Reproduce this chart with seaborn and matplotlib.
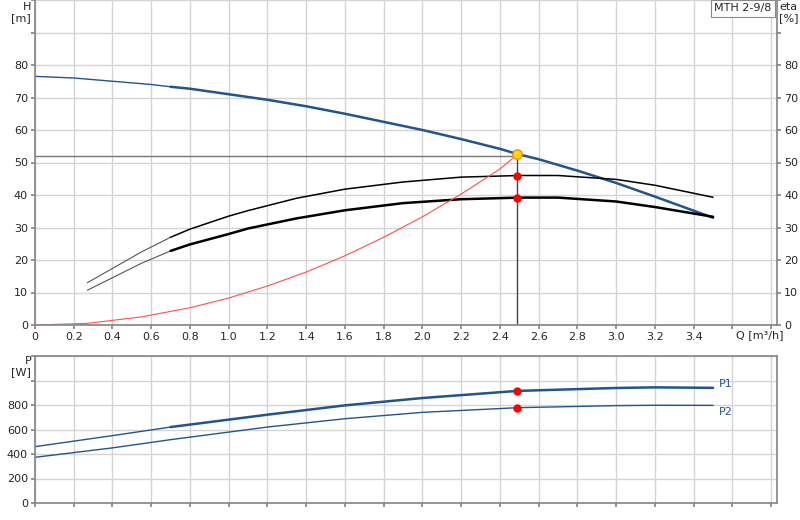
import matplotlib
matplotlib.use("Agg")
import matplotlib.pyplot as plt
import seaborn as sns
import numpy as np

sns.set_theme(style="white")
plt.rcParams['font.family'] = ['DejaVu Sans']

q_h = [0, 0.2, 0.4, 0.6, 0.7, 0.8, 1.0, 1.2, 1.4, 1.6, 1.8, 2.0, 2.2, 2.4, 2.49, 2.6, 2.8, 3.0, 3.2, 3.5]
h = [76.5, 76, 75, 74, 73.3, 72.7, 71, 69.3, 67.3, 65, 62.5, 60, 57.2, 54.2, 52.6, 51, 47.5, 43.7, 39.5, 33]
q_eta = [0.27, 0.55, 0.7, 0.8, 1.0, 1.1, 1.35, 1.6, 1.9, 2.2, 2.5, 2.7, 3.0, 3.2, 3.5]
eta_pump = [13, 22.5, 27, 29.5, 33.5, 35.2, 39, 41.8, 44, 45.5, 46, 46, 44.8, 43, 39.3]
eta_tot = [10.7, 19, 22.8, 24.8, 28, 29.7, 32.8, 35.3, 37.5, 38.7, 39.2, 39.2, 38, 36.3, 33.3]
q_sys = [0, 0.27, 0.55, 0.8, 1.0, 1.2, 1.4, 1.6, 1.8, 2.0, 2.2, 2.4, 2.49]
h_sys = [0, 0.5, 2.5, 5.3, 8.3, 12, 16.3, 21.3, 27, 33.3, 40.3, 48, 52.5]
q_p = [0, 0.4, 0.7, 1.2, 1.6, 2.0, 2.49, 3.0, 3.2, 3.5]
p1 = [460, 550, 620, 721, 797, 857, 915, 939, 944, 940]
p2 = [373, 450, 517, 620, 688, 740, 778, 795, 798, 797]
duty_q = 2.49
duty_h = 52.5
duty_eta = [46, 39.2]
duty_p = [915, 778]

blue = "#1f5591"
fig = plt.figure(figsize=(8, 5.2), dpi=100)
ax = fig.add_axes([35/800, 195/520, 742/800, 325/520])
axp = fig.add_axes([35/800, 17/520, 742/800, 147/520])

xmax = 3.83
for a in (ax, axp):
    a.set_xlim(0, xmax)
    a.set_xticks(np.arange(0, 3.81, 0.2))
    a.grid(True, color="#d4d4d4", lw=1)
    for s in a.spines.values():
        s.set_color("#888888")
    a.tick_params(axis="both", labelsize=8, length=3, color="#888888", pad=2, direction="out")
    a.tick_params(bottom=True, left=True)

ax.set_ylim(0, 100)
ax.set_yticks(range(0, 101, 10))
ax.set_yticklabels([str(v) if v <= 80 else "" for v in range(0, 101, 10)])
ax.set_xticklabels([f"{v:.1f}" if 0 < v < 3.5 else ("0" if v == 0 else "") for v in np.arange(0, 3.81, 0.2)])
ax.spines["top"].set_visible(False)
axr = ax.twinx()
axr.set_ylim(0, 100)
axr.set_yticks(range(0, 101, 10))
axr.set_yticklabels([str(v) if v <= 80 else "" for v in range(0, 101, 10)])
axr.tick_params(labelsize=8, length=3, color="#888888", pad=2)
for s in axr.spines.values():
    s.set_visible(False)

hq = np.array(q_h); hh = np.array(h)
sns.lineplot(x=hq[hq <= 0.7], y=hh[hq <= 0.7], ax=ax, color=blue, lw=1, sort=False)
sns.lineplot(x=hq[hq >= 0.7], y=hh[hq >= 0.7], ax=ax, color=blue, lw=1.8, sort=False)
eq = np.array(q_eta)
for arr, lw in ((eta_pump, 1.1), (eta_tot, 1.8)):
    e = np.array(arr)
    sns.lineplot(x=eq[eq <= 0.7], y=e[eq <= 0.7], ax=ax, color="#555555", lw=0.8, sort=False)
    sns.lineplot(x=eq[eq >= 0.7], y=e[eq >= 0.7], ax=ax, color="black", lw=lw, sort=False)
sns.lineplot(x=q_sys, y=h_sys, ax=ax, color="#ff5050", lw=0.8, sort=False)
ax.plot([0, duty_q], [52, 52], color="#777777", lw=1)
ax.plot([duty_q, duty_q], [0, 52], color="#444444", lw=1)
ax.scatter([duty_q], [duty_h], s=45, color="#ffdd00", edgecolor="#ff8800", zorder=5)
ax.scatter([duty_q] * 2, duty_eta, s=25, color="red", zorder=5)

ax.text(-0.02, 99.3, "H\n[m]", ha="right", va="top", fontsize=8, linespacing=1.1)
ax.text(3.62, -1.5, "Q [m³/h]", ha="left", va="top", fontsize=8)
ax.text(1.003, 0.993, "eta\n[%]", ha="left", va="top", fontsize=8, linespacing=1.1, transform=ax.transAxes)
ax.text(0.993, 0.99, "MTH 2-9/8", ha="right", va="top", fontsize=8, transform=ax.transAxes,
        bbox=dict(boxstyle="square,pad=0.3", fc="white", ec="#888888", lw=0.8))

pq = np.array(q_p); pp1 = np.array(p1)
sns.lineplot(x=pq[pq <= 0.7], y=pp1[pq <= 0.7], ax=axp, color=blue, lw=1, sort=False)
sns.lineplot(x=pq[pq >= 0.7], y=pp1[pq >= 0.7], ax=axp, color=blue, lw=1.8, sort=False)
sns.lineplot(x=q_p, y=p2, ax=axp, color=blue, lw=1, sort=False)
axp.scatter([duty_q] * 2, duty_p, s=25, color="red", zorder=5)
axp.text(3.53, 975, "P1", fontsize=8, color=blue, va="center")
axp.text(3.53, 745, "P2", fontsize=8, color=blue, va="center")
axp.set_ylim(0, 1200)
axp.set_yticks(range(0, 1201, 200))
axp.set_yticklabels([str(v) if v <= 800 else "" for v in range(0, 1201, 200)])
axp.set_xticklabels([])
axp.text(-0.02, 1200, "P\n[W]", ha="right", va="top", fontsize=8, linespacing=1.1)
for a in (ax, axp, axr):
    a.set_xlabel(""); a.set_ylabel("")
fig.savefig("out.png", dpi=100)
